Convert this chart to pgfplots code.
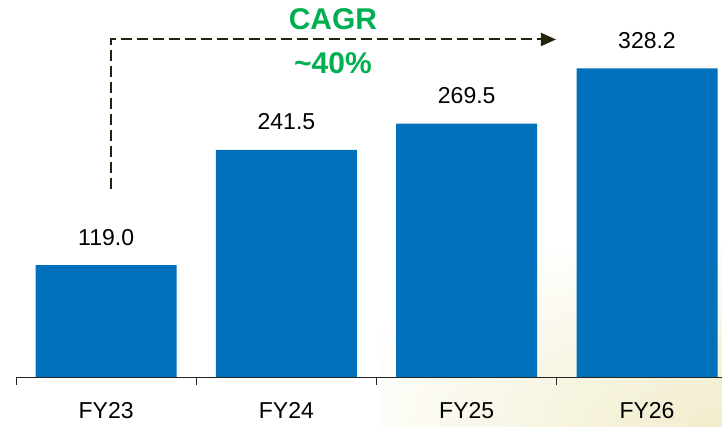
\documentclass[border=0pt]{standalone}
\usepackage{fontspec}
\setmainfont{Liberation Sans}
\usepackage{pgfplots}
\pgfplotsset{compat=1.18}
\usepackage{pgfplotstable}
\usetikzlibrary{arrows.meta}
\definecolor{barblue}{RGB}{0,113,186}
\definecolor{cagrgreen}{RGB}{0,176,80}
\definecolor{arrowc}{RGB}{38,34,14}
\definecolor{cream}{RGB}{242,237,205}
\pgfdeclareradialshading{creamglow}{\pgfpoint{0bp}{0bp}}{color(0bp)=(cream); color(12bp)=(cream!55!white); color(25bp)=(white); color(50bp)=(white)}
\newcommand\lblfont{\fontsize{23bp}{27bp}\selectfont}
\newcommand\cagrfont{\fontsize{30bp}{34bp}\selectfont\bfseries}
\pgfplotstableread{
x y lab
0 119.0 119.0
1 241.5 241.5
2 269.5 269.5
3 328.2 328.2
}\datatab
\begin{document}
\begin{tikzpicture}
\useasboundingbox (0,0) rectangle (722bp,427bp);
\begin{scope}
\clip (380bp,0) rectangle (722bp,185bp);
\shade[shading=creamglow] (722bp,0) ellipse (400bp and 200bp);
\end{scope}
\begin{axis}[
  at={(16bp,50bp)}, anchor=south west,
  scale only axis,
  width=706bp, height=377bp,
  xmin=-0.5, xmax=3.416,
  ymin=0, ymax=401,
  hide y axis,
  axis x line*=bottom,
  x axis line style={-, line width=0.9bp, color=black!85},
  xtick={0,1,2,3},
  xticklabels={FY23,FY24,FY25,FY26},
  major tick length=0pt,
  minor xtick={-0.5,0.5,1.5,2.5},
  minor tick length=8bp,
  tick align=outside,
  minor tick style={line width=0.9bp, color=black!85},
  xticklabel style={font=\lblfont, anchor=base, inner sep=0pt, yshift=-41bp, text=black},
  ybar,
  bar width=0.782,
  clip=false,
  nodes near coords,
  point meta=explicit symbolic,
  every node near coord/.append style={font=\lblfont, anchor=base, inner sep=0pt, yshift=20bp, text=black},
]
\addplot[fill=barblue, draw=none] table[x=x, y=y, meta=lab] {\datatab};
\draw[dash pattern=on 11bp off 5bp, line width=2bp, color=arrowc, -{Triangle[length=15bp,width=13bp]}]
  (axis cs:0.025,200) -- (axis cs:0.025,359) -- (axis cs:2.495,359);
\node[anchor=base, inner sep=0pt, text=cagrgreen, font=\cagrfont] at (axis cs:1.258,369.1) {CAGR};
\node[anchor=base, inner sep=0pt, text=cagrgreen, font=\cagrfont] at (axis cs:1.258,322.3) {\textasciitilde 40\%};
\end{axis}
\end{tikzpicture}
\end{document}
